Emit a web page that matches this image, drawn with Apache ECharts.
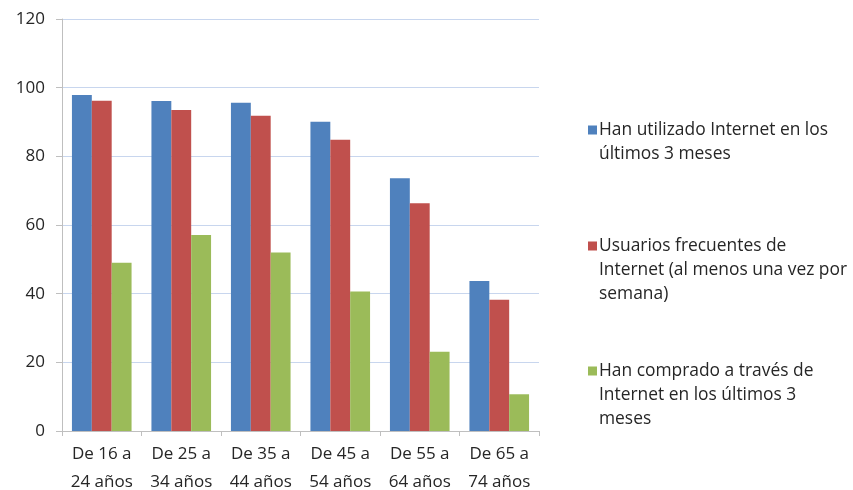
<!DOCTYPE html>
<html>
<head>
<meta charset="utf-8">
<script src="https://cdn.jsdelivr.net/npm/echarts@6/dist/echarts.min.js"></script>
<style>html,body{margin:0;padding:0;background:#fff}#c{width:853px;height:490px}</style>
</head>
<body>
<div id="c"></div>
<script>
var categories = ['De 16 a\n24 años', 'De 25 a\n34 años', 'De 35 a\n44 años', 'De 45 a\n54 años', 'De 55 a\n64 años', 'De 65 a\n74 años'];
var seriesNames = [
  'Han utilizado Internet en los\núltimos 3 meses',
  'Usuarios frecuentes de\nInternet (al menos una vez por\nsemana)',
  'Han comprado a través de\nInternet en los últimos 3\nmeses'
];
var usedInternet = [97.9, 96.1, 95.6, 90.1, 73.6, 43.7];
var frequentUsers = [96.2, 93.5, 91.8, 84.8, 66.3, 38.2];
var boughtOnline = [49.0, 57.1, 52.0, 40.6, 23.1, 10.7];
var yTicks = [0, 20, 40, 60, 80, 100, 120];

var colors = ['#4F81BD', '#C0504D', '#9BBB59'];
var FONT = 'Open Sans';
var FS = 17;
var LH = 24;
function iconPath(lines) {
  var H = lines * LH;
  return 'path://M0,0 L0.001,0 Z M0,7.5 L9,7.5 L9,16.5 L0,16.5 Z M0,' + H + ' L0.001,' + H + ' Z';
}
var legendTops = [113, 229, 354];
var legends = seriesNames.map(function (n, i) {
  var lines = n.split('\n').length;
  return {
    data: [n],
    orient: 'vertical',
    left: 583,
    top: legendTops[i],
    itemWidth: 9,
    itemHeight: lines * LH,
    itemGap: 0,
    icon: iconPath(lines),
    selectedMode: false,
    textStyle: { fontFamily: FONT, fontSize: 17.4, color: '#262626', lineHeight: LH, padding: [0, 0, 0, -3] }
  };
});

var chart = echarts.init(document.getElementById('c'));
chart.setOption({
  animation: false,
  color: colors,
  legend: legends,
  grid: { left: 62, right: 314, top: 19, bottom: 59, containLabel: false, outerBoundsMode: 'none' },
  xAxis: {
    type: 'category',
    data: categories,
    axisLine: { lineStyle: { color: '#bfbfbf', width: 1 } },
    axisTick: { show: true, length: 5, lineStyle: { color: '#bfbfbf' } },
    axisLabel: { fontFamily: FONT, fontSize: FS, color: '#262626', lineHeight: 28, margin: 9, interval: 0 }
  },
  yAxis: {
    type: 'value',
    min: 0, max: 120, interval: 20,
    axisLine: { show: true, lineStyle: { color: '#bfbfbf', width: 1 } },
    axisTick: { show: true, length: 6, lineStyle: { color: '#bfbfbf' } },
    axisLabel: { fontFamily: FONT, fontSize: FS, color: '#262626', margin: 17,
      formatter: function (v) { return yTicks.indexOf(v) >= 0 ? String(v) : ''; } },
    splitLine: { show: true, lineStyle: { color: '#c8d6ee', width: 1 } }
  },
  series: [
    { name: seriesNames[0], type: 'bar', data: usedInternet, barGap: '0%', barCategoryGap: '25%' },
    { name: seriesNames[1], type: 'bar', data: frequentUsers, barGap: '0%', barCategoryGap: '25%' },
    { name: seriesNames[2], type: 'bar', data: boughtOnline, barGap: '0%', barCategoryGap: '25%' }
  ]
});
</script>
</body>
</html>
